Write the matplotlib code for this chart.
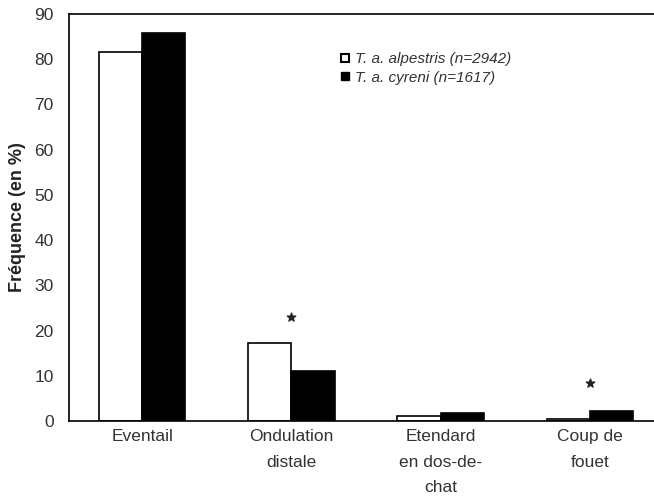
import numpy as np
import matplotlib.pyplot as plt
from matplotlib.lines import Line2D

plt.rcParams['font.family'] = ['Liberation Sans', 'DejaVu Sans']

# Data
categories = ['Eventail', 'Ondulation\ndistale', 'Etendard\nen dos-de-\nchat', 'Coup de\nfouet']
alpestris = [81.5, 17.3, 1.1, 0.5]
cyreni = [85.8, 11.1, 1.7, 2.2]
star_pos = [1, 3]
star_y = [23.0, 8.4]

fig = plt.figure(figsize=(6.54, 5.01), dpi=100)
ax = fig.add_axes([0.1055, 0.1597, 0.8945, 0.8123])

x = np.arange(len(categories))
w = 0.29
ax.bar(x - w / 2, alpestris, w, color='white', edgecolor='black', linewidth=1.2)
ax.bar(x + w / 2, cyreni, w, color='black', edgecolor='black', linewidth=1.2)

ax.scatter(star_pos, star_y, marker='*', s=40, color='#222222', zorder=3)

ax.set_xlim(-0.49, 3.43)
ax.set_ylim(0, 90)
ax.set_yticks(np.arange(0, 91, 10))
ax.set_xticks(x)
ax.set_xticklabels(categories, linespacing=1.85)
ax.tick_params(axis='both', length=0, labelsize=12.5, colors='#333333')
ax.tick_params(axis='y', pad=11)
ax.tick_params(axis='x', pad=6)
ax.spines['right'].set_visible(False)
for sp in ['left', 'top', 'bottom']:
    ax.spines[sp].set_linewidth(1.2)

ax.set_ylabel('Fréquence (en %)', fontsize=13, fontweight='bold', color='#222222', labelpad=6)

handles = [
    Line2D([], [], marker='s', linestyle='none', markerfacecolor='white',
           markeredgecolor='black', markersize=6, markeredgewidth=1.5),
    Line2D([], [], marker='s', linestyle='none', markerfacecolor='black',
           markeredgecolor='black', markersize=6),
]
labels = ['T. a. alpestris (n=2942)', 'T. a. cyreni (n=1617)']
leg = ax.legend(handles, labels, loc='upper left', bbox_to_anchor=(0.44, 0.94),
                frameon=False, handlelength=0.6, handletextpad=0.4,
                labelspacing=0.3, prop={'style': 'italic', 'size': 11})
for t in leg.get_texts():
    t.set_color('#333333')

fig.savefig('out.png', dpi=100)
